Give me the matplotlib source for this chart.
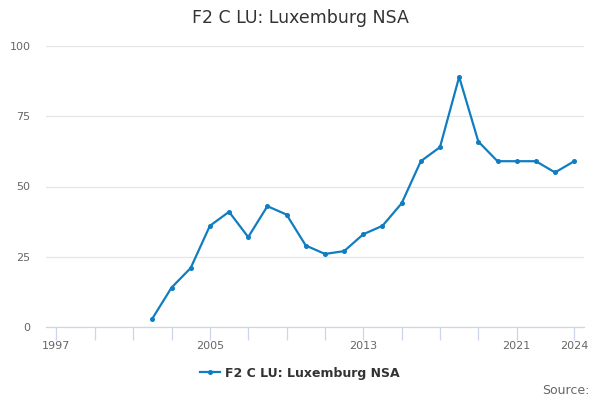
import matplotlib
matplotlib.use("Agg")
import matplotlib.pyplot as plt
from matplotlib.lines import Line2D

years = list(range(2002, 2025))
values = [3, 14, 21, 36, 41, 32, 43, 40, 29, 26, 27, 33, 36, 44, 59, 64, 89, 66, 59, 59, 59, 55, 59]
series_name = "F2 C LU: Luxemburg NSA"
title = "F2 C LU: Luxemburg NSA"
ytick_values = [0, 25, 50, 75, 100]
xtick_minor = list(range(1997, 2022, 2)) + [2024]
xtick_labels = [1997, 2005, 2013, 2021, 2024]

color = "#117dc1"

fig = plt.figure(figsize=(6, 4), dpi=100)
ax = fig.add_axes([0.0765, 0.1825, 0.8965, 0.7025])

ax.plot(years, values, color=color, lw=1.6, marker="o", ms=2.6, zorder=3)

ax.set_xlim(1996.45, 2024.5)
ax.set_ylim(0, 100)

ax.set_yticks(ytick_values)
ax.set_yticklabels([str(v) for v in ytick_values])
ax.tick_params(axis="y", length=0, labelsize=8, labelcolor="#666666", pad=11)
ax.yaxis.grid(True, color="#e6e6e6", lw=0.9)
ax.set_axisbelow(True)

ax.set_xticks(xtick_minor)
ax.set_xticklabels([str(y) if y in xtick_labels else "" for y in xtick_minor])
ax.tick_params(axis="x", length=9, color="#ccd6eb", width=0.9, labelsize=8,
               labelcolor="#666666", pad=1)

for s in ["top", "right", "left"]:
    ax.spines[s].set_visible(False)
ax.spines["bottom"].set_color("#ccd6eb")
ax.spines["bottom"].set_linewidth(0.9)

fig.text(0.5, 0.955, title, ha="center", va="center", fontsize=12.5, color="#333333")

handle = Line2D([], [], color=color, lw=1.6, marker="o", ms=2.6)
leg = fig.legend([handle], [series_name], loc="center", bbox_to_anchor=(0.5, 0.067),
                 frameon=False, handlelength=1.6, handletextpad=0.4,
                 prop={"size": 9, "weight": "bold"})
for t in leg.get_texts():
    t.set_color("#333333")

fig.text(0.982, 0.025, "Source:", ha="right", va="center", fontsize=9, color="#666666")

fig.savefig("out.png", dpi=100)
